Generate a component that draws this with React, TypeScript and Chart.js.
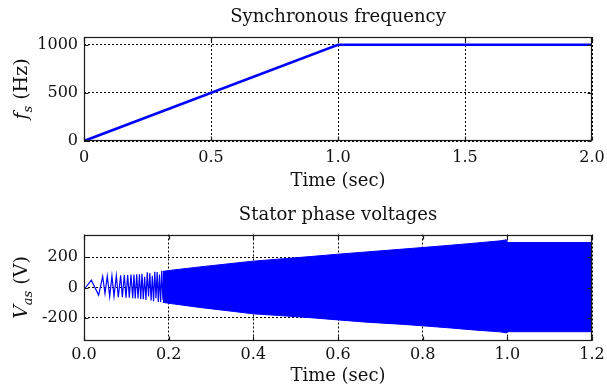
import React, { useEffect, useRef } from 'react';
import { Chart, registerables } from 'chart.js';

Chart.register(...registerables);

// ---------- Data: synchronous frequency ----------
const fsTime = [0, 1.0, 2.0];
const fsValue = [0, 1000, 1000];
const topXTicks = [0, 0.5, 1.0, 1.5, 2.0];
const topXLabels = ['0', '0.5', '1.0', '1.5', '2.0'];
const topYTicks = [0, 500, 1000];
const topYLabels = ['0', '500', '1000'];

// ---------- Data: stator phase voltage ----------
// early, individually visible oscillation peaks (time s, volts)
const vEarlyTime = [0, 0.004, 0.0173, 0.0346, 0.0441, 0.0496, 0.055, 0.0607, 0.066, 0.0709, 0.0764, 0.081, 0.0866, 0.0906, 0.0953, 0.0992, 0.1032, 0.107, 0.111, 0.115, 0.118, 0.121, 0.1245, 0.1276, 0.131, 0.134, 0.137, 0.14,
  0.1432, 0.1463, 0.1494, 0.1525, 0.1555, 0.1585, 0.1614, 0.1643, 0.1672, 0.17, 0.1728, 0.1756, 0.1783, 0.181, 0.1837, 0.1864, 0.189];
const vEarlyValue = [0, 0, 48, -50, 73, -40, 75, -60, 77, -58, 78, -64, 80, -64, 83, -68, 83, -68, 85, -71, 85, -73, 88, -73, 88, -77, 90, -77,
  70, -82, 100, -60, 96, -86, 78, -90, 104, -70, 102, -95, 85, -96, 110, -80, 108];
// envelope of the dense oscillation band
const envTime = [0.186, 0.2, 0.274, 0.353, 0.4, 0.471, 0.534, 0.6, 0.668, 0.746, 0.8, 0.865, 0.928, 0.983, 0.998, 1.0, 1.2];
const envUpper = [106, 112, 136, 160, 174, 190, 204, 220, 235, 252, 264, 279, 294, 308, 315, 297, 297];
const envLower = [-98, -104, -132, -158, -174, -187, -199, -214, -229, -242, -253, -267, -282, -293, -300, -292, -292];
const botXTicks = [0, 0.2, 0.4, 0.6, 0.8, 1.0, 1.2];
const botXLabels = ['0.0', '0.2', '0.4', '0.6', '0.8', '1.0', '1.2'];
const botYTicks = [-200, 0, 200];
const botYLabels = ['-200', '0', '200'];

const FONT = '"DejaVu Serif", "Liberation Serif", serif';
const BLUE = '#0000ff';
const INK = '#111111';

const framePlugin = {
  id: 'frameBox',
  afterDatasetsDraw(chart: any) {
    const { ctx, chartArea: a, scales } = chart;
    ctx.save();
    ctx.strokeStyle = '#1a1a1a';
    ctx.lineWidth = 1.2;
    const l = Math.round(a.left) + 0.5;
    const t = Math.round(a.top) + 0.5;
    const r = Math.round(a.right) - 0.5;
    const b = Math.round(a.bottom) - 0.5;
    ctx.strokeRect(l, t, r - l, b - t);
    const tl = 4;
    ctx.beginPath();
    for (const tk of scales.x.ticks) {
      const px = Math.round(scales.x.getPixelForValue(tk.value)) + 0.5;
      ctx.moveTo(px, b); ctx.lineTo(px, b - tl);
      ctx.moveTo(px, t); ctx.lineTo(px, t + tl);
    }
    for (const tk of scales.y.ticks) {
      const py = Math.round(scales.y.getPixelForValue(tk.value)) + 0.5;
      ctx.moveTo(l, py); ctx.lineTo(l + tl, py);
      ctx.moveTo(r, py); ctx.lineTo(r - tl, py);
    }
    ctx.stroke();
    ctx.restore();
  },
};

const yTitlePlugin = {
  id: 'yTitle',
  afterDraw(chart: any, _args: any, opts: any) {
    const segs: { text: string; italic?: boolean; sub?: boolean }[] = opts.segments || [];
    if (!segs.length) return;
    const { ctx, chartArea: a } = chart;
    const size = opts.size || 19;
    const subSize = Math.round(size * 0.7);
    const fontOf = (s: any) => `${s.italic ? 'italic ' : ''}${s.sub ? subSize : size}px ${FONT}`;
    ctx.save();
    let total = 0;
    const widths = segs.map((s) => {
      ctx.font = fontOf(s);
      const w = ctx.measureText(s.text).width;
      total += w;
      return w;
    });
    ctx.translate(opts.x, (a.top + a.bottom) / 2 + (opts.dy || 0));
    ctx.rotate(-Math.PI / 2);
    ctx.fillStyle = INK;
    ctx.textBaseline = 'alphabetic';
    let x = -total / 2;
    const base = size * 0.36;
    segs.forEach((s, i) => {
      ctx.font = fontOf(s);
      ctx.fillText(s.text, x, base + (s.sub ? size * 0.25 : 0));
      x += widths[i];
    });
    ctx.restore();
  },
};

function makeOptions(cfg: any) {
  return {
    responsive: false,
    animation: false,
    events: [],
    layout: { padding: { left: 0, right: 15, top: 0, bottom: 0 } },
    plugins: {
      legend: { display: false },
      tooltip: { enabled: false },
      title: {
        display: true,
        fullSize: false,
        text: cfg.title,
        color: INK,
        font: { family: FONT, size: 18, weight: 'normal' },
        padding: cfg.titlePad,
      },
      yTitle: { segments: cfg.ySegs, x: 20, size: 19, dy: cfg.yTitleDy || 0 },
    },
    scales: {
      x: {
        type: 'linear',
        min: cfg.xMin,
        max: cfg.xMax,
        afterBuildTicks: (s: any) => { s.ticks = cfg.xTicks.map((v: number) => ({ value: v })); },
        afterFit: (s: any) => { s.height = cfg.xHeight; s.paddingLeft = 0; s.paddingRight = 0; },
        ticks: {
          autoSkip: false,
          maxRotation: 0,
          padding: cfg.xTickPad,
          color: INK,
          font: { family: FONT, size: 16 },
          callback: (v: number) => cfg.xLabels[cfg.xTicks.findIndex((t: number) => Math.abs(t - v) < 1e-9)] ?? '',
        },
        grid: { color: '#000', lineWidth: 1, drawTicks: false },
        border: { display: false, dash: [2, 2] },
        title: {
          display: true,
          text: 'Time (sec)',
          color: INK,
          font: { family: FONT, size: 18 },
          padding: { top: 0, bottom: 3 },
        },
      },
      y: {
        type: 'linear',
        min: cfg.yMin,
        max: cfg.yMax,
        afterBuildTicks: (s: any) => { s.ticks = cfg.yTicks.map((v: number) => ({ value: v })); },
        afterFit: (s: any) => { s.width = 84; s.paddingTop = 0; s.paddingBottom = 0; },
        ticks: {
          autoSkip: false,
          padding: 6,
          color: INK,
          font: { family: FONT, size: 16 },
          callback: (v: number) => cfg.yLabels[cfg.yTicks.findIndex((t: number) => Math.abs(t - v) < 1e-9)] ?? '',
        },
        grid: { color: '#000', lineWidth: 1, drawTicks: false },
        border: { display: false, dash: [2, 2] },
      },
    },
  };
}

function FreqChart() {
  const ref = useRef<HTMLCanvasElement>(null);
  useEffect(() => {
    if (!ref.current) return;
    const chart = new Chart(ref.current, {
      type: 'line',
      data: {
        datasets: [
          {
            data: fsTime.map((t, i) => ({ x: t, y: fsValue[i] })),
            borderColor: BLUE,
            backgroundColor: BLUE,
            borderWidth: 2.6,
            pointRadius: 0,
            tension: 0,
            fill: false,
          },
        ],
      },
      options: makeOptions({
        title: 'Synchronous frequency',
        titlePad: { top: 7, bottom: 8.4 },
        ySegs: [
          { text: 'f', italic: true },
          { text: 's', italic: true, sub: true },
          { text: ' (Hz)' },
        ],
        xMin: 0, xMax: 2, xTicks: topXTicks, xLabels: topXLabels,
        yMin: 0, yMax: 1080, yTicks: topYTicks, yLabels: topYLabels,
        xHeight: 54, xTickPad: 7,
      }) as any,
      plugins: [framePlugin, yTitlePlugin],
    });
    return () => chart.destroy();
  }, []);
  return <canvas ref={ref} width={607} height={195} style={{ display: 'block' }} />;
}

function VoltChart() {
  const ref = useRef<HTMLCanvasElement>(null);
  useEffect(() => {
    if (!ref.current) return;
    const chart = new Chart(ref.current, {
      type: 'line',
      data: {
        datasets: [
          {
            data: vEarlyTime.map((t, i) => ({ x: t, y: vEarlyValue[i] })),
            borderColor: BLUE,
            borderWidth: 1.2,
            pointRadius: 0,
            tension: 0,
            fill: false,
          },
          {
            data: envTime.map((t, i) => ({ x: t, y: envUpper[i] })),
            borderColor: BLUE,
            backgroundColor: BLUE,
            borderWidth: 1,
            pointRadius: 0,
            tension: 0,
            fill: '+1',
          },
          {
            data: envTime.map((t, i) => ({ x: t, y: envLower[i] })),
            borderColor: BLUE,
            backgroundColor: BLUE,
            borderWidth: 1,
            pointRadius: 0,
            tension: 0,
            fill: false,
          },
        ],
      },
      options: makeOptions({
        title: 'Stator phase voltages',
        titlePad: { top: 10, bottom: 7.9 },
        ySegs: [
          { text: 'V', italic: true },
          { text: 'as', italic: true, sub: true },
          { text: ' (V)' },
        ],
        xMin: 0, xMax: 1.2, xTicks: botXTicks, xLabels: botXLabels,
        yMin: -350, yMax: 350, yTicks: botYTicks, yLabels: botYLabels,
        xHeight: 49.5, xTickPad: 5,
      }) as any,
      plugins: [framePlugin, yTitlePlugin],
    });
    return () => chart.destroy();
  }, []);
  return <canvas ref={ref} width={607} height={195} style={{ display: 'block' }} />;
}

export default function App() {
  return (
    <div style={{ position: 'fixed', left: 0, top: 0, width: 607, height: 390, background: '#fff' }}>
      <FreqChart />
      <VoltChart />
    </div>
  );
}
